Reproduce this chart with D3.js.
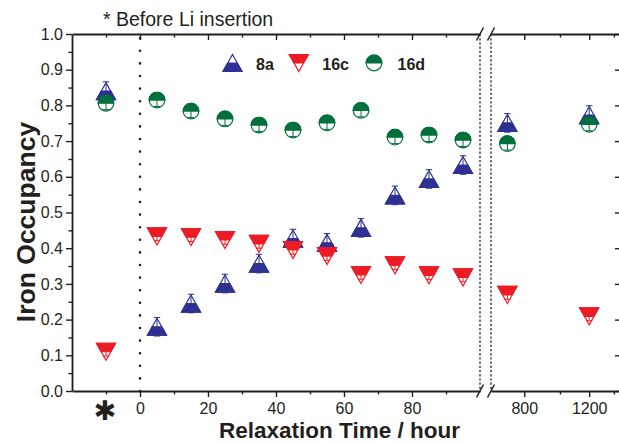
<!DOCTYPE html>
<html>
<head>
<meta charset="utf-8">
<script src="https://cdn.jsdelivr.net/npm/d3@7"></script>
<style>
  html, body { margin: 0; padding: 0; background: #fff; }
  svg { display: block; font-family: "Liberation Sans", Arial, Helvetica, sans-serif; }
</style>
</head>
<body>
<svg id="chart" width="619" height="443"></svg>
<script>
// Relaxation times in hours; -10 is the slot for the sample before Li insertion
const times = [-10, 5, 15, 25, 35, 45, 55, 65, 75, 85, 95, 720, 1200];

// Iron occupancy per crystallographic site
const occ8a  = [0.840, 0.180, 0.245, 0.301, 0.357, 0.427, 0.415, 0.457, 0.548, 0.594, 0.633, 0.751, 0.773];
const occ16c = [0.110, 0.433, 0.431, 0.423, 0.412, 0.395, 0.378, 0.325, 0.352, 0.324, 0.318, 0.269, 0.209];
const occ16d = [0.806, 0.815, 0.784, 0.762, 0.745, 0.731, 0.751, 0.786, 0.711, 0.717, 0.703, 0.693, 0.747];

// Uncertainties
const err8a  = [0.026, 0.026, 0.026, 0.026, 0.026, 0.026, 0.026, 0.026, 0.026, 0.026, 0.026, 0.026, 0.026];
const err16c = [0.012, 0.012, 0.012, 0.012, 0.012, 0.012, 0.012, 0.012, 0.012, 0.012, 0.012, 0.012, 0.012];
const err16d = [0.018, 0.018, 0.018, 0.018, 0.018, 0.018, 0.018, 0.018, 0.018, 0.018, 0.018, 0.018, 0.018];

const seriesNames  = ["8a", "16c", "16d"];
const seriesColors = ["#2e3192", "#ed1c24", "#00703c"];
const seriesShapes = ["up", "down", "circle"];

// Axis ticks
const yMajor = [0, 0.1, 0.2, 0.3, 0.4, 0.5, 0.6, 0.7, 0.8, 0.9, 1.0];
const yMinor = [0.05, 0.15, 0.25, 0.35, 0.45, 0.55, 0.65, 0.75, 0.85, 0.95];
const shortMajor = [0, 20, 40, 60, 80];
const shortMinor = [-10, 10, 30, 50, 70, 90];
const longMajor = [800, 1200];
const longMinor = [1000, 1400];
const beforeLabel = "\u2731";
const beforeTime = -10;

const titleText = "* Before Li insertion";
const xTitle = "Relaxation Time / hour";
const yTitle = "Iron Occupancy";

const svg = d3.select("#chart");
const FONT = '"Liberation Sans", Arial, Helvetica, sans-serif';

// Scales: linear first segment, logarithmic segment after the break
const y = d3.scaleLinear([0, 1], [391, 34]);
const xShort = d3.scaleLinear([-20, 100], [72, 480]);
const xLong = d3.scaleLog([650, 1450], [491, 619.5]);
const xPos = t => (t <= 100 ? xShort(t) : xLong(t));

const yTop = y(1), yBottom = y(0);

function styleAxis(g, size) {
  g.attr("font-family", FONT).attr("font-size", size);
  g.select(".domain").attr("stroke", "#231f20").attr("stroke-width", 1.8);
  g.selectAll(".tick line").attr("stroke", "#231f20").attr("stroke-width", 1.4);
  g.selectAll(".tick text").attr("fill", "#231f20");
}

// Bottom axis and top frame, both segments
[[xShort, shortMajor, shortMinor], [xLong, longMajor, longMinor]].forEach(([sc, maj, min]) => {
  svg.append("g").attr("transform", `translate(0,${yBottom})`)
    .call(d3.axisBottom(sc).tickValues(maj).tickSize(6).tickSizeOuter(0).tickPadding(6).tickFormat(d3.format("d")))
    .call(g => styleAxis(g, 16));
  svg.append("g").attr("transform", `translate(0,${yBottom})`)
    .call(d3.axisBottom(sc).tickValues(min).tickSize(3.5).tickSizeOuter(0).tickFormat(""))
    .call(g => { styleAxis(g, 16); g.select(".domain").remove(); });
  svg.append("g").attr("transform", `translate(0,${yTop})`)
    .call(d3.axisTop(sc).tickValues(maj).tickSize(-6).tickSizeOuter(0).tickFormat(""))
    .call(g => styleAxis(g, 16));
  svg.append("g").attr("transform", `translate(0,${yTop})`)
    .call(d3.axisTop(sc).tickValues(min).tickSize(-3.5).tickSizeOuter(0).tickFormat(""))
    .call(g => { styleAxis(g, 16); g.select(".domain").remove(); });
});

// Left axis
svg.append("g").attr("transform", `translate(${xShort(-20)},0)`)
  .call(d3.axisLeft(y).tickValues(yMajor).tickSize(6).tickSizeOuter(0).tickPadding(3).tickFormat(d3.format(".1f")))
  .call(g => styleAxis(g, 16));
svg.append("g").attr("transform", `translate(${xShort(-20)},0)`)
  .call(d3.axisLeft(y).tickValues(yMinor).tickSize(3.5).tickSizeOuter(0).tickFormat(""))
  .call(g => { styleAxis(g, 16); g.select(".domain").remove(); });

// Right frame with inward ticks
svg.append("g").attr("transform", `translate(620,0)`)
  .call(d3.axisRight(y).tickValues(yMajor).tickSize(-5).tickSizeOuter(0).tickFormat(""))
  .call(g => styleAxis(g, 16));

// Category label for the pristine sample
svg.append("text")
  .attr("x", xShort(beforeTime) - 1).attr("y", 411)
  .attr("dy", "0.35em")
  .attr("text-anchor", "middle")
  .attr("font-family", '"DejaVu Sans", sans-serif').attr("font-size", 27)
  .attr("fill", "#231f20")
  .text(beforeLabel);

// Axis break markers
[xShort(100), xLong(650)].forEach(bx => {
  [yTop, yBottom].forEach(by => {
    svg.append("line")
      .attr("x1", bx - 3.5).attr("y1", by + 6.5)
      .attr("x2", bx + 3.5).attr("y2", by - 6.5)
      .attr("stroke", "#231f20").attr("stroke-width", 1.5);
  });
  svg.append("line")
    .attr("x1", bx).attr("x2", bx).attr("y1", yTop).attr("y2", yBottom)
    .attr("stroke", "#231f20").attr("stroke-width", 1.3)
    .attr("stroke-dasharray", "2.2,2");
});

// Dotted line at t = 0 separating the pristine sample
svg.append("line")
  .attr("x1", xShort(0)).attr("x2", xShort(0))
  .attr("y1", yBottom).attr("y2", yTop)
  .attr("stroke", "#231f20").attr("stroke-width", 2.6)
  .attr("stroke-linecap", "round")
  .attr("stroke-dasharray", "0,12.6");

// Half-filled marker geometry
const TW = 9.5, TH = 8.5, CR = 7.8;
const shapes = {
  up:     { outline: `M0,${-TH}L${TW},${TH}L${-TW},${TH}Z`,
            half:    `M${-TW / 2},0L${TW / 2},0L${TW},${TH}L${-TW},${TH}Z` },
  down:   { outline: `M0,${TH}L${TW},${-TH}L${-TW},${-TH}Z`,
            half:    `M${-TW},${-TH}L${TW},${-TH}L${TW / 2},0L${-TW / 2},0Z` },
  circle: { outline: `M${-CR},0A${CR},${CR} 0 1 1 ${CR},0A${CR},${CR} 0 1 1 ${-CR},0Z`,
            half:    `M${-CR},0A${CR},${CR} 0 0 1 ${CR},0Z` }
};

function drawMarker(g, shape, color) {
  g.append("path").attr("d", shapes[shape].outline)
    .attr("fill", "#fff").attr("stroke", color).attr("stroke-width", 1.2);
  g.append("path").attr("d", shapes[shape].half)
    .attr("fill", color).attr("stroke", color).attr("stroke-width", 1.2);
}

const seriesValues = [occ8a, occ16c, occ16d];
const seriesErrors = [err8a, err16c, err16d];

seriesNames.forEach((name, si) => {
  const color = seriesColors[si];
  const pts = times.map((t, i) => ({ t, v: seriesValues[si][i], e: seriesErrors[si][i] }));
  const g = svg.append("g").attr("class", "series-" + name);
  const m = g.selectAll("g.pt").data(pts).join("g")
    .attr("class", "pt")
    .attr("transform", d => `translate(${xPos(d.t)},${y(d.v)})`);
  m.each(function (d) {
    const sel = d3.select(this);
    drawMarker(sel, seriesShapes[si], color);
    const up = y(d.v + d.e) - y(d.v), dn = y(d.v - d.e) - y(d.v);
    sel.append("line").attr("x1", 0).attr("x2", 0).attr("y1", up).attr("y2", dn)
      .attr("stroke", color).attr("stroke-width", 1);
    [up, dn].forEach(cy => sel.append("line")
      .attr("x1", -3.2).attr("x2", 3.2).attr("y1", cy).attr("y2", cy)
      .attr("stroke", color).attr("stroke-width", 1));
  });
});

// Legend
let lx = 232.5;
const ly = 63;
seriesNames.forEach((name, si) => {
  const g = svg.append("g").attr("transform", `translate(${lx},${ly})`);
  drawMarker(g, seriesShapes[si], seriesColors[si]);
  const txt = svg.append("text")
    .attr("x", lx + 23.5).attr("y", 70)
    .attr("font-family", FONT).attr("font-weight", "bold").attr("font-size", 16)
    .attr("fill", "#231f20")
    .text(name);
  lx = lx + 23.5 + txt.node().getComputedTextLength() + 25;
});

// Note above the frame
svg.append("text")
  .attr("x", 103).attr("y", 26)
  .attr("font-family", FONT).attr("font-size", 19.5).attr("fill", "#231f20")
  .text(titleText);

// Axis titles
svg.append("text")
  .attr("x", 339.5).attr("y", 438)
  .attr("text-anchor", "middle")
  .attr("font-family", FONT).attr("font-weight", "bold").attr("font-size", 22.5)
  .attr("fill", "#231f20")
  .text(xTitle);

svg.append("text")
  .attr("transform", "translate(35,222) rotate(-90)")
  .attr("text-anchor", "middle")
  .attr("font-family", FONT).attr("font-weight", "bold").attr("font-size", 26.5)
  .attr("fill", "#231f20")
  .text(yTitle);
</script>
</body>
</html>
